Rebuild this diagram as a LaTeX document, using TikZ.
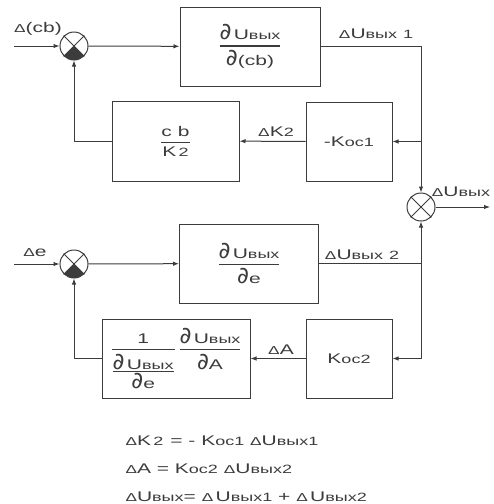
\documentclass[tikz,border=0pt]{standalone}
\usepackage{fontspec}
\setmainfont{Liberation Sans}[FakeStretch=1.5]
\newfontfamily\pdfont{DejaVu Sans}
\usetikzlibrary{arrows.meta,calc}
\definecolor{lc}{HTML}{3C3C3C}
\newcommand\sm[1]{{\fontsize{12}{12}\selectfont #1}}
\newcommand\Dl{{\fontsize{11.5}{12}\selectfont Δ}}
\newcommand\Uv{U\sm{вых}}
\newcommand\pd{{\pdfont\fontsize{23}{23}\selectfont ∂}}
\newcommand\fra[2]{{\hbox{#1}\above1.2pt\hbox{#2}}}
\begin{document}
\begin{tikzpicture}[x=1pt,y=-1pt,line width=1pt,color=lc,
  >={Latex[length=6pt,width=4.5pt]},
  box/.style={draw,rectangle,inner sep=0pt},
  sumnode/.style={draw,circle,minimum size=28pt,inner sep=0pt},
  lbl/.style={inner sep=0pt},
  every node/.style={font=\fontsize{14}{15}\selectfont}]
\useasboundingbox (0,0) rectangle (494,504);
% summers
\node[sumnode] (s1) at (74,46) {};
\node[sumnode] (s2) at (74,264) {};
\node[sumnode] (s3) at (421,207) {};
\foreach \s in {s1,s2,s3}{
  \draw (\s.north west) -- (\s.south east) (\s.north east) -- (\s.south west);
}
\foreach \s in {s1,s2}{
  \begin{scope}
    \clip (\s.center) -- ($(\s.center)!2!(\s.south west)$) -- ($(\s.center)!2!(\s.south east)$) -- cycle;
    \fill (\s.center) circle[radius=14pt];
  \end{scope}
}
% boxes
\node[box,minimum width=140pt,minimum height=79pt] (b1) at (250,46.5)
  {$\displaystyle\fra{\pd\,\Uv}{\pd(cb)}$};
\node[box,minimum width=86pt,minimum height=79pt] (b2) at (349,141.5)
  {-K\sm{ос1}};
\node[box,minimum width=127pt,minimum height=80pt] (b3) at (175.5,141)
  {$\displaystyle\fra{c b}{K\,\sm{2}}$};
\node[box,minimum width=139pt,minimum height=79pt] (b4) at (249,263.5)
  {$\displaystyle\fra{\pd\,\Uv}{\pd e}$};
\node[box,minimum width=86pt,minimum height=79pt] (b5) at (349,358.5)
  {K\sm{ос2}};
\node[box,minimum width=148pt,minimum height=79pt] (b6) at (176,358.5)
  {$\displaystyle{\hbox{1}\above1.2pt{\hbox{\pd\,\Uv}\above1.2pt\hbox{\pd e}}}\,\fra{\pd\,\Uv}{\pd A}$};
% free ends
\coordinate (in1) at (14,46);
\coordinate (in2) at (14,264);
\coordinate (out) at (490,207);
% connectors
\draw[->] (in1) -- (s1);
\draw[->] (s1) -- (b1);
\draw[->] (b1.east) -| (s3.north);
\draw[->] (s3.center |- b2.east) -- (b2.east);
\draw[->] (b2) -- (b3);
\draw[->] (b3.west) -| (s1.south);
\draw[->] (s3.east) -- (out);
\draw[->] (in2) -- (s2);
\draw[->] (s2) -- (b4);
\draw[->] (b4.east) -| (s3.south);
\draw[->] (b4.east -| s3.center) |- (b5.east);
\draw[->] (b5) -- (b6);
\draw[->] (b6.west) -| (s2.south);
% labels
\node[lbl] (l1) at (38,29) {\Dl(cb)};
\node[lbl] (l2) at (376,34) {\Dl\Uv\ \sm{1}};
\node[lbl] (l3) at (276,132) {\Dl K\sm{2}};
\node[lbl] (l4) at (461,192) {\Dl\Uv};
\node[lbl] (l5) at (35,253) {\Dl e};
\node[lbl] (l6) at (362,255) {\Dl\Uv\ \sm{2}};
\node[lbl] (l7) at (281,350) {\Dl A};
% equations
\node[lbl,anchor=base west] (e1) at (125,445) {\Dl K\,\sm{2}\enspace = - K\sm{ос1} \Dl\Uv\sm{1}};
\node[lbl,anchor=base west] (e2) at (125,473) {\Dl A = K\sm{ос2} \Dl\Uv\sm{2}};
\node[lbl,anchor=base west] (e3) at (125,501) {\Dl\Uv= \Dl\,\Uv\sm{1} + \Dl\,\Uv\sm{2}};
\end{tikzpicture}
\end{document}
